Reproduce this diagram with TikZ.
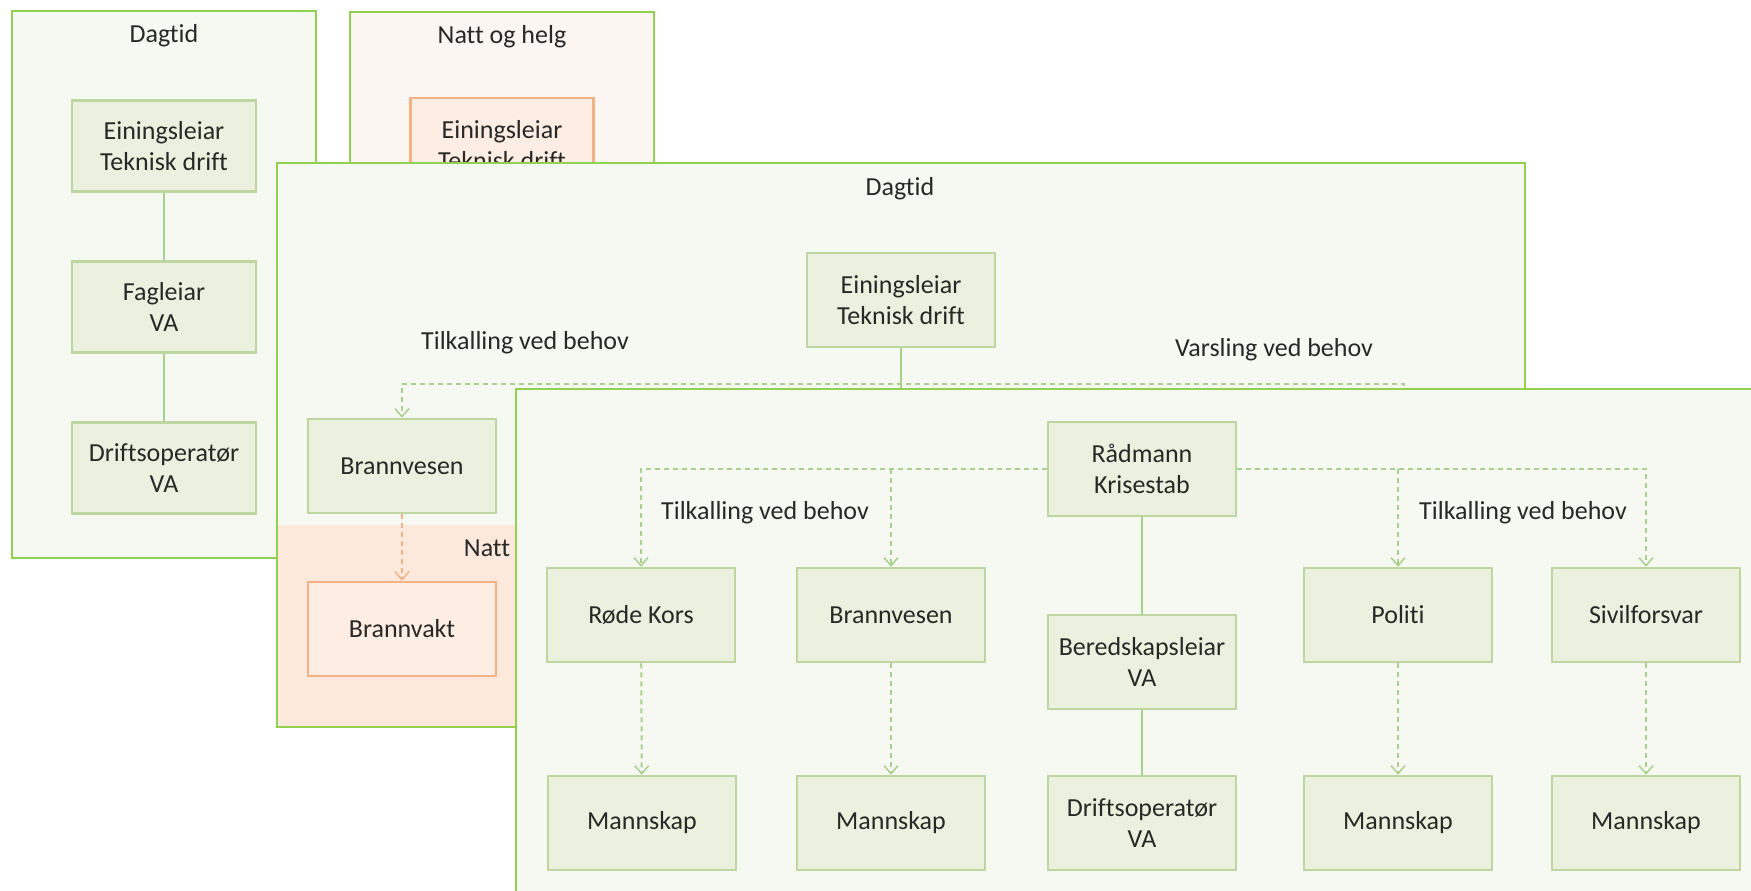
\documentclass[tikz,border=0pt]{standalone}
\usepackage{fontspec}
\setmainfont{Carlito}[Ligatures=NoCommon]
\usetikzlibrary{arrows.meta}
\definecolor{kgreen}{RGB}{146,208,80}
\definecolor{kpanel}{RGB}{245,249,241}
\definecolor{kpeach}{RGB}{252,246,242}
\definecolor{kbox}{RGB}{235,241,222}
\definecolor{kboxline}{RGB}{190,214,160}
\definecolor{klink}{RGB}{169,209,142}
\definecolor{knight}{RGB}{252,233,220}
\definecolor{knightbox}{RGB}{253,237,226}
\definecolor{korange}{RGB}{244,177,131}
\definecolor{ktext}{RGB}{40,40,40}

\tikzset{
  panel/.style={draw=kgreen, line width=2pt, fill=kpanel},
  paneltitle/.style={text=ktext, inner sep=0pt, font=\fontsize{26}{31}\selectfont},
  orgbox/.style={draw=kboxline, fill=kbox, line width=2.5pt, minimum width=188pt,
    minimum height=94pt, align=center, inner sep=0pt, text=ktext,
    font=\fontsize{26}{31}\selectfont},
  nightbox/.style={orgbox, draw=korange, fill=knightbox},
  chain/.style={draw=klink, line width=2pt},
  calllink/.style={draw=klink, line width=2pt, dash pattern=on 5pt off 4pt,
    -{Straight Barb[length=8pt,width=14pt,line width=1.5pt]}},
  nightlink/.style={calllink, draw=korange},
}

\begin{document}
\begin{tikzpicture}[x=1pt, y=-1pt]
    \useasboundingbox (0,0) rectangle (1751,891);
    \fill[white] (0,0) rectangle (1751,891);
    \clip (0,0) rectangle (1751,891);

    % Day panel, back left
    \draw[panel] (12,11) rectangle (316,558);
    \node[paneltitle] (dagA) at (164,36) {Dagtid};
    \node[orgbox, minimum width=184pt, minimum height=91pt] (einA) at (164,146) {Einingsleiar\\Teknisk drift};
    \node[orgbox, minimum width=184pt, minimum height=91pt] (fagA) at (164,307) {Fagleiar\\VA};
    \node[orgbox, minimum width=184pt, minimum height=91pt] (driftA) at (164,468) {Driftsoperatør\\VA};
    \draw[chain] (einA) -- (fagA);
    \draw[chain] (fagA) -- (driftA);

    % Night and weekend panel, back right
    \draw[panel, fill=kpeach] (350,12) rectangle (654,320);
    \node[paneltitle] (nattB) at (502,37) {Natt og helg};
    \node[nightbox, minimum width=183pt] (einB) at (502,145) {Einingsleiar\\Teknisk drift};

    % Day panel, middle
    \draw[panel] (277,163) rectangle (1525,727);
    \node[paneltitle] (dagC) at (900,189) {Dagtid};
    \node[orgbox] (einC) at (901,300) {Einingsleiar\\Teknisk drift};
    \node[paneltitle] (tilkC) at (525,343) {Tilkalling ved behov};
    \node[paneltitle] (varsC) at (1274,350) {Varsling ved behov};
    \node[orgbox] (brannC) at (402,466) {Brannvesen};
    \coordinate (busC) at (402,384);
    \coordinate (varselC) at (1404,440);
    \draw[chain] (einC) -- (einC |- varselC);
    \draw[calllink] (varselC) |- (busC) -- (brannC);

    % Night strip inside the middle panel
    \fill[knight] (278,525) rectangle (700,726);
    \node[paneltitle] (nattC) at (487,548) {Natt};
    \node[nightbox] (vaktC) at (402,629) {Brannvakt};
    \draw[nightlink] (brannC) -- (vaktC);

    % Crisis panel, front
    \draw[panel] (516,389) rectangle (1780,920);
    \node[orgbox] (radmann) at (1142,469) {Rådmann\\Krisestab};
    \node[orgbox] (raudekross) at (641,615) {Røde Kors};
    \node[orgbox] (brannD) at (891,615) {Brannvesen};
    \node[orgbox] (beredskap) at (1142,662) {Beredskapsleiar\\VA};
    \node[orgbox] (politi) at (1398,615) {Politi};
    \node[orgbox] (sivil) at (1646,615) {Sivilforsvar};
    \node[orgbox] (mann1) at (642,823) {Mannskap};
    \node[orgbox] (mann2) at (891,823) {Mannskap};
    \node[orgbox] (driftD) at (1142,823) {Driftsoperatør\\VA};
    \node[orgbox] (mann3) at (1398,823) {Mannskap};
    \node[orgbox] (mann4) at (1646,823) {Mannskap};
    \node[paneltitle] (tilkD1) at (765,513) {Tilkalling ved behov};
    \node[paneltitle] (tilkD2) at (1523,513) {Tilkalling ved behov};

    % Links in the crisis panel
    \draw[chain] (radmann) -- (beredskap);
    \draw[chain] (beredskap) -- (driftD);
    \draw[calllink] (radmann.west) -| (raudekross);
    \draw[calllink] (brannD |- radmann.west) -- (brannD);
    \draw[calllink] (radmann.east) -| (sivil);
    \draw[calllink] (politi |- radmann.east) -- (politi);
    \draw[calllink] (raudekross) -- (mann1);
    \draw[calllink] (brannD) -- (mann2);
    \draw[calllink] (politi) -- (mann3);
    \draw[calllink] (sivil) -- (mann4);
\end{tikzpicture}
\end{document}
